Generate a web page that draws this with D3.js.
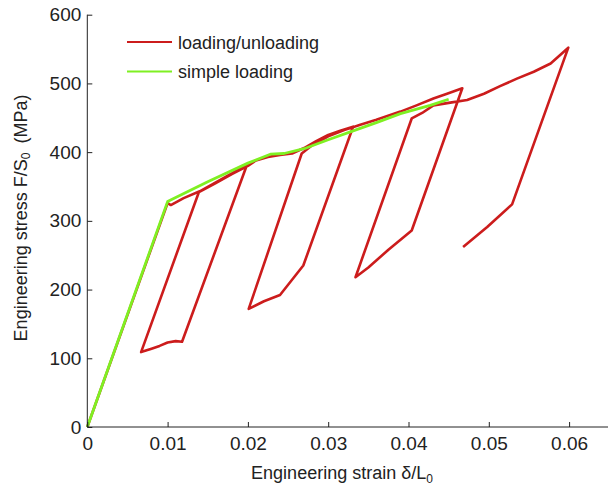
<!DOCTYPE html>
<meta charset='utf-8'>
<script src='https://d3js.org/d3.v7.min.js'></script>
<style>
body{margin:0;background:#fff;}
svg{font-family:'Liberation Sans',Arial,Helvetica,sans-serif;}
</style>
<svg id='chart'></svg>
<script>
// strain / stress pairs
var redStrain=[0,0.0100,0.0104,0.0120,0.0140,0.0160,0.0180,0.0199,
  0.0118,0.0110,0.0100,0.0090,0.0080,0.0067,
  0.0139,0.0160,0.0180,0.0200,0.0210,0.0225,0.0240,0.0255,0.0270,0.0285,0.0300,0.0315,0.0331,
  0.0269,0.0240,0.0220,0.0201,
  0.0267,0.0280,0.0300,0.0320,0.0340,0.0360,0.0390,0.0410,0.0431,0.0448,0.0467,
  0.0404,0.0375,0.0350,0.0334,
  0.0404,0.0417,0.0431,0.0452,0.0473,0.0494,0.0514,0.0535,0.0556,0.0577,0.0599,
  0.0529,0.0498,0.0468];
var redStress=[0,326,323,333,343,356,369,382,
  124,125,123,118,114,109,
  342,355,368,380,388,393,396,398,406,416,425,431,437,
  235,192,183,172,
  398,410,423,432,440,447,459,468,478,485,493,
  286,258,232,218,
  449,457,468,472,476,485,496,507,517,529,552,
  324,291,262];
var greenStrain=[0,0.0100,0.0150,0.0200,0.0228,0.0245,0.0270,0.0300,0.0331,0.0360,0.0390,0.0427,0.0450];
var greenStress=[0,328,357,384,397,398,405,418,431,443,456,468,477];
var xTicks=[0,0.01,0.02,0.03,0.04,0.05,0.06];
var yTicks=[0,100,200,300,400,500,600];
var seriesNames=['loading/unloading','simple loading'];
var seriesColors=['#cc1c1c','#7ff022'];

var W=608,H=494,mLeft=87.3,mTop=14.7,mBottom=427;
var svg=d3.select('#chart').attr('width',W).attr('height',H);
var x=d3.scaleLinear().domain([0,0.065]).range([mLeft,mLeft+80.3*6.5]);
var y=d3.scaleLinear().domain([0,600]).range([mBottom,mTop]);

var red=d3.zip(redStrain,redStress),green=d3.zip(greenStrain,greenStress);
var line=d3.line().x(function(d){return x(d[0]);}).y(function(d){return y(d[1]);});

svg.append('path').datum(red).attr('d',line)
   .attr('fill','none').attr('stroke',seriesColors[0])
   .attr('stroke-width',2.6).attr('stroke-linejoin','round');
svg.append('path').datum(green).attr('d',line)
   .attr('fill','none').attr('stroke',seriesColors[1])
   .attr('stroke-width',2.8).attr('stroke-linejoin','round');

var xAxis=svg.append('g').attr('transform','translate(0,'+mBottom+')')
   .call(d3.axisBottom(x).tickValues(xTicks).tickSizeInner(-5).tickSizeOuter(0)
   .tickPadding(10).tickFormat(function(d){return d===0?'0':d3.format('.2f')(d);}));
var yAxis=svg.append('g').attr('transform','translate('+mLeft+',0)')
   .call(d3.axisLeft(y).tickValues(yTicks).tickSizeInner(-5).tickSizeOuter(0).tickPadding(6));
[xAxis,yAxis].forEach(function(a){
  a.selectAll('text').attr('font-size',19).attr('fill','#222')
   .attr('font-family',"'Liberation Sans',Arial,sans-serif");
  a.select('.domain').attr('stroke','#222');
  a.selectAll('.tick line').attr('stroke','#222');
});
xAxis.select('.domain').attr('d','M'+mLeft+',0H'+W);
yAxis.select('.domain').attr('d','M0,'+mBottom+'V'+mTop);

var xt=svg.append('text').attr('x',342).attr('y',479).attr('text-anchor','middle')
   .attr('font-size',18).attr('fill','#222');
xt.append('tspan').text('Engineering strain \u03b4/L');
xt.append('tspan').attr('font-size',12).attr('dy',4).text('0');

var yt=svg.append('text').attr('transform','translate(27,218) rotate(-90)')
   .attr('text-anchor','middle').attr('font-size',18).attr('fill','#222');
yt.append('tspan').text('Engineering stress F/S');
yt.append('tspan').attr('font-size',12).attr('dy',3).text('0');
yt.append('tspan').attr('dy',-3).text('\u2002(MPa)');

var leg=svg.append('g');
seriesNames.forEach(function(n,i){
  var yy=42+i*29.5;
  leg.append('line').attr('x1',127).attr('x2',172).attr('y1',yy).attr('y2',yy)
     .attr('stroke',seriesColors[i]).attr('stroke-width',2);
  leg.append('text').attr('x',178).attr('y',yy+6.5).attr('font-size',18)
     .attr('fill','#222').text(n);
});
</script>
